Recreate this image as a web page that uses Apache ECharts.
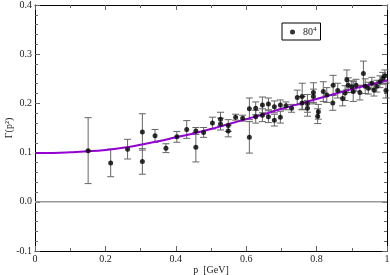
<!DOCTYPE html>
<html>
<head>
<meta charset="utf-8">
<script src="https://cdn.jsdelivr.net/npm/echarts@6/dist/echarts.min.js"></script>
<style>
html,body{margin:0;padding:0;background:#fff;}
#chart{width:390px;height:275px;}
</style>
</head>
<body>
<div id="chart"></div>
<script>
// Data points: momentum p [GeV], Gamma(p^2), symmetric error
var pValues = [0.151,0.215,0.263,0.305,0.305,0.341,0.372,0.403,0.431,0.457,0.457,0.479,
  0.504,0.527,0.527,0.549,0.549,0.570,0.590,0.609,0.609,0.627,0.627,0.646,0.646,0.663,0.663,
  0.680,0.680,0.697,0.697,0.713,0.729,0.745,0.759,0.759,0.774,0.774,0.791,0.791,0.805,0.803,
  0.819,0.829,0.846,0.847,0.860,0.874,0.881,0.886,0.890,0.900,0.904,0.912,0.923,0.933,0.938,
  0.947,0.957,0.963,0.971,0.980,0.988,0.994,0.997];
var gammaValues = [0.104,0.079,0.107,0.142,0.082,0.134,0.109,0.132,0.147,0.144,0.111,0.141,
  0.160,0.168,0.158,0.155,0.144,0.172,0.170,0.189,0.131,0.190,0.173,0.197,0.176,0.199,0.173,
  0.193,0.166,0.197,0.172,0.195,0.190,0.212,0.214,0.201,0.200,0.190,0.222,0.214,0.183,0.174,
  0.224,0.217,0.201,0.237,0.226,0.210,0.221,0.248,0.237,0.234,0.224,0.237,0.222,0.261,0.235,
  0.231,0.241,0.227,0.235,0.244,0.251,0.256,0.226];
var errValues = [0.067,0.028,0.020,0.037,0.026,0.013,0.009,0.011,0.018,0.007,0.030,0.010,
  0.012,0.014,0.012,0.012,0.012,0.006,0.006,0.022,0.032,0.013,0.013,0.016,0.013,0.012,0.012,
  0.012,0.012,0.010,0.012,0.008,0.008,0.015,0.027,0.013,0.018,0.016,0.020,0.015,0.015,0.015,
  0.020,0.015,0.015,0.020,0.015,0.015,0.015,0.020,0.015,0.012,0.020,0.012,0.015,0.025,0.015,
  0.012,0.012,0.012,0.012,0.012,0.012,0.012,0.015];
// Fit curve
var curveP = [0,0.05,0.1,0.15,0.2,0.25,0.3,0.35,0.4,0.45,0.5,0.55,0.6,0.65,0.7,0.75,0.8,0.85,0.9,0.95,1.0];
var curveG = [0.099,0.0993,0.1005,0.1025,0.1055,0.110,0.116,0.123,0.131,0.139,0.148,0.158,0.168,0.178,0.189,0.199,0.209,0.219,0.229,0.238,0.247];
var zeroLineP = [0,1];
var zeroLineG = [0,0];
var xTicks = [0,0.2,0.4,0.6,0.8,1];
var yTicks = [-0.1,0,0.1,0.2,0.3,0.4];
var seriesName = '80^4';

var pts = pValues.map(function(p,i){return [p,gammaValues[i]];});
var errData = pValues.map(function(p,i){return [p,gammaValues[i]-errValues[i],gammaValues[i]+errValues[i]];});
var curve = curveP.map(function(p,i){return [p,curveG[i]];});
var zero = zeroLineP.map(function(p,i){return [p,zeroLineG[i]];});

var FONT = 'Liberation Serif';
function fmtX(v){ return v===0?'0':(Math.abs(v-1)<1e-9?'1':v.toFixed(1)); }
function fmtY(v){ return v.toFixed(1); }

var baseAxis = {
  type:'value', min:0, max:1, interval:0.2,
  splitLine:{show:false},
  axisLine:{show:true,onZero:false,lineStyle:{color:'#000',width:1}},
  axisTick:{show:true,inside:true,length:5,lineStyle:{color:'#666',width:1}},
  minorTick:{show:true,splitNumber:2,length:3,lineStyle:{color:'#666',width:1}}
};
function clone(o){return JSON.parse(JSON.stringify(o));}

var xBottom = clone(baseAxis);
xBottom.position='bottom';
xBottom.name='p  [GeV]';
xBottom.nameLocation='middle';
xBottom.nameGap=14;
xBottom.nameMoveOverlap=false;
xBottom.nameTextStyle={fontFamily:FONT,fontSize:10,color:'#222'};
xBottom.axisLabel={show:true,formatter:fmtX,fontFamily:FONT,fontSize:10,color:'#222',margin:3};
var xTop = clone(baseAxis);
xTop.position='top';
xTop.axisLabel={show:false};

var yBase = {
  type:'value', min:-0.1, max:0.4, interval:0.1,
  splitLine:{show:false},
  axisLine:{show:true,onZero:false,lineStyle:{color:'#000',width:1}},
  axisTick:{show:true,inside:true,length:5,lineStyle:{color:'#666',width:1}},
  minorTick:{show:true,splitNumber:5,length:3,lineStyle:{color:'#666',width:1}}
};
var yLeft = clone(yBase);
yLeft.position='left';
yLeft.name='Γ(p²)';
yLeft.nameLocation='middle';
yLeft.nameGap=21;
yLeft.nameRotate=90;
yLeft.nameMoveOverlap=false;
yLeft.nameTextStyle={fontFamily:FONT,fontSize:10,color:'#222'};
yLeft.axisLabel={show:true,formatter:fmtY,fontFamily:FONT,fontSize:10,color:'#222',margin:3};
var yRight = clone(yBase);
yRight.position='right';
yRight.axisLabel={show:false};

var chart = echarts.init(document.getElementById('chart'),null,{renderer:'canvas'});
chart.setOption({
  animation:false,
  backgroundColor:'#fff',
  grid:{left:35,right:3,top:5,bottom:24,containLabel:false,outerBoundsMode:'none'},
  xAxis:[xBottom,xTop],
  yAxis:[yLeft,yRight],
  legend:{
    show:true,
    data:[{name:seriesName,icon:'circle'}],
    left:282, top:23,
    orient:'vertical',
    itemWidth:5, itemHeight:5, itemGap:0,
    padding:[3,4,3,8],
    borderColor:'#000', borderWidth:1,
    backgroundColor:'#fff',
    selectedMode:false,
    formatter:function(n){return '{a|80}{b|4}';},
    textStyle:{
      fontFamily:FONT,fontSize:10,color:'#222',padding:[0,0,0,3],
      rich:{a:{fontFamily:FONT,fontSize:10,color:'#222'},b:{fontFamily:FONT,fontSize:7,color:'#222',verticalAlign:'top',padding:[0,0,5,0]}}
    }
  },
  series:[
    {type:'line',name:'zero',data:zero,showSymbol:false,silent:true,
     lineStyle:{color:'#999',width:1.5},z:1},
    {type:'custom',name:'err',data:errData,silent:true,z:2,
     renderItem:function(params,api){
       var x=api.value(0), lo=api.value(1), hi=api.value(2);
       var a=api.coord([x,lo]), b=api.coord([x,hi]);
       var w=3.5;
       var st={stroke:'#666',lineWidth:1};
       return {type:'group',children:[
         {type:'line',shape:{x1:a[0],y1:a[1],x2:b[0],y2:b[1]},style:st},
         {type:'line',shape:{x1:a[0]-w,y1:a[1],x2:a[0]+w,y2:a[1]},style:st},
         {type:'line',shape:{x1:b[0]-w,y1:b[1],x2:b[0]+w,y2:b[1]},style:st}
       ]};
     },
     encode:{x:0,y:[1,2]}},
    {type:'line',name:'fit',data:curve,smooth:true,showSymbol:false,silent:true,
     lineStyle:{color:'#9400d3',width:2},z:3},
    {type:'scatter',name:seriesName,data:pts,symbol:'circle',symbolSize:5,
     itemStyle:{color:'#000'},z:4}
  ]
});
</script>
</body>
</html>
